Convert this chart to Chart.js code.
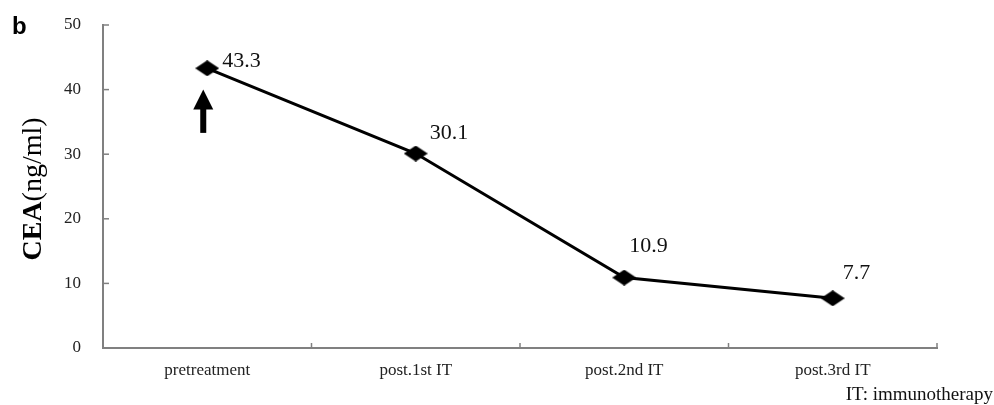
<!DOCTYPE html>
<html lang="en">
<head>
    <meta charset="UTF-8">
    <title>CEA after immunotherapy</title>
    <script src="https://cdn.jsdelivr.net/npm/chart.js"></script>
    <style>
        html, body { margin: 0; padding: 0; background: #fff; }
        #wrap { width: 994px; height: 405px; position: relative; }
    </style>
</head>
<body>
    <div id="wrap"><canvas id="chart"></canvas></div>

    <script>
        // Data
        const categories = ["pretreatment", "post.1st IT", "post.2nd IT", "post.3rd IT"];
        const ceaValues = [43.3, 30.1, 10.9, 7.7];
        const yTicks = [0, 10, 20, 30, 40, 50];

        // arrow under the first point, in axis units
        const arrowFrom = 33.3;
        const arrowTo = 40;

        // label nudges (px) relative to each point
        const labelDx = [15, 14, 5, 10];
        const labelDy = [-7, -20, -31, -25];

        const serif = "'Liberation Serif', 'Times New Roman', serif";
        const axisGrey = "#808080";

        // flattened diamond marker
        function diamond(w, h) {
            const c = document.createElement("canvas");
            c.width = w;
            c.height = h;
            const g = c.getContext("2d");
            g.fillStyle = "#000";
            g.beginPath();
            g.moveTo(w / 2, 0);
            g.lineTo(w, h / 2);
            g.lineTo(w / 2, h);
            g.lineTo(0, h / 2);
            g.closePath();
            g.fill();
            return c;
        }

        // small ticks pointing into the plot, value labels, arrow, titles
        const extras = {
            id: "extras",
            afterDraw(chart) {
                const ctx = chart.ctx;
                const area = chart.chartArea;
                const x = chart.scales.x;
                const y = chart.scales.y;
                ctx.save();

                ctx.strokeStyle = axisGrey;
                ctx.lineWidth = 1.5;
                yTicks.forEach(v => {
                    const py = y.getPixelForValue(v);
                    ctx.beginPath();
                    ctx.moveTo(area.left, py);
                    ctx.lineTo(area.left + 6, py);
                    ctx.stroke();
                });
                const step = x.getPixelForValue(1) - x.getPixelForValue(0);
                categories.forEach((c, i) => {
                    const px = x.getPixelForValue(i) + step / 2;
                    ctx.beginPath();
                    ctx.moveTo(px, area.bottom);
                    ctx.lineTo(px, area.bottom - 5);
                    ctx.stroke();
                });

                // value labels
                const meta = chart.getDatasetMeta(0);
                ctx.fillStyle = "#111";
                ctx.font = "22px " + serif;
                ctx.textAlign = "left";
                ctx.textBaseline = "middle";
                meta.data.forEach((pt, i) => {
                    ctx.fillText(ceaValues[i].toFixed(1), pt.x + labelDx[i], pt.y + labelDy[i]);
                });

                // arrow
                const ax = x.getPixelForValue(0) - 4;
                const yTop = y.getPixelForValue(arrowTo);
                const yBot = y.getPixelForValue(arrowFrom);
                ctx.fillStyle = "#000";
                ctx.fillRect(ax - 3, yTop + 18, 6, yBot - yTop - 18);
                ctx.beginPath();
                ctx.moveTo(ax, yTop);
                ctx.lineTo(ax + 10, yTop + 20);
                ctx.lineTo(ax - 10, yTop + 20);
                ctx.closePath();
                ctx.fill();

                // y title: bold CEA + regular (ng/ml)
                ctx.translate(34, 189);
                ctx.rotate(-Math.PI / 2);
                ctx.textBaseline = "middle";
                ctx.fillStyle = "#000";
                ctx.font = "bold 28px " + serif;
                const w1 = ctx.measureText("CEA").width;
                ctx.font = "28px " + serif;
                const w2 = ctx.measureText("(ng/ml)").width;
                let start = -(w1 + w2) / 2;
                ctx.textAlign = "left";
                ctx.font = "bold 28px " + serif;
                ctx.fillText("CEA", start, 0);
                ctx.font = "28px " + serif;
                ctx.fillText("(ng/ml)", start + w1, 0);
                ctx.setTransform(1, 0, 0, 1, 0, 0);

                // panel letter and footnote
                ctx.font = "bold 24px 'Liberation Sans', Arial, sans-serif";
                ctx.textAlign = "left";
                ctx.fillText("b", 12, 27);
                ctx.font = "19px " + serif;
                ctx.textAlign = "right";
                ctx.fillStyle = "#111";
                ctx.fillText("IT: immunotherapy", 993, 395);

                ctx.restore();
            }
        };

        const ctx = document.getElementById("chart").getContext("2d");
        new Chart(ctx, {
            type: "line",
            data: {
                labels: categories,
                datasets: [{
                    data: ceaValues,
                    borderColor: "#000",
                    borderWidth: 3,
                    tension: 0,
                    fill: false,
                    pointStyle: diamond(24, 16),
                    pointRadius: 12,
                    pointHoverRadius: 12
                }]
            },
            options: {
                responsive: true,
                maintainAspectRatio: false,
                animation: false,
                events: [],
                layout: { autoPadding: false, padding: { top: 25, right: 57, left: 0, bottom: 0 } },
                plugins: {
                    legend: { display: false },
                    tooltip: { enabled: false }
                },
                scales: {
                    x: {
                        offset: true,
                        grid: { offset: true, drawOnChartArea: false, drawTicks: false },
                        border: { color: axisGrey, width: 2 },
                        ticks: {
                            color: "#222",
                            font: { family: serif, size: 17 },
                            padding: 12,
                            maxRotation: 0
                        },
                        afterFit(scale) { scale.height = 57; }
                    },
                    y: {
                        min: 0,
                        max: 50,
                        grid: { drawOnChartArea: false, drawTicks: false },
                        border: { color: axisGrey, width: 2 },
                        ticks: {
                            stepSize: 10,
                            color: "#222",
                            font: { family: serif, size: 17 },
                            padding: 22
                        },
                        afterFit(scale) { scale.width = 103; scale.paddingTop = 0; scale.paddingBottom = 0; }
                    }
                }
            },
            plugins: [extras]
        });
    </script>
</body>
</html>
